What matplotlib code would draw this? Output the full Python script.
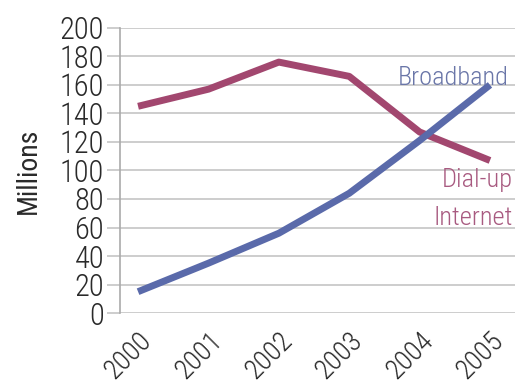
import matplotlib
matplotlib.use("Agg")
import matplotlib.pyplot as plt

years = [2000, 2001, 2002, 2003, 2004, 2005]
broadband = [15, 35, 56, 84, 121, 160]
dialup = [145, 157, 176, 166, 127, 107]
yticks = list(range(0, 201, 20))

blue = "#5a6aaa"
plum = "#a2476f"
grid_gray = "#c9c9c9"
ink = "#2a2a2a"

plt.rcParams['font.family'] = ['Roboto Condensed', 'DejaVu Sans']
plt.rcParams['font.weight'] = 300

fig = plt.figure(figsize=(5.2, 3.87), dpi=100)
ax = fig.add_axes([0.231, 0.191, 0.76, 0.737])

ax.plot(years, dialup, color=plum, lw=5, solid_capstyle='butt', zorder=3)
ax.plot(years, broadband, color=blue, lw=5, solid_capstyle='butt', zorder=3)

ax.set_ylim(0, 200)
ax.set_xlim(1999.745, 2005.36)
ax.set_yticks(yticks)
ax.set_xticks(years)
ax.set_xticklabels([str(y) for y in years], rotation=45, ha='right', va='top',
                   rotation_mode='anchor', fontsize=20, color=ink)
ax.set_yticklabels([str(v) for v in yticks], fontsize=22, color=ink)
ax.yaxis.grid(True, color=grid_gray, lw=1.3)
ax.tick_params(axis='y', length=9.5, width=1.3, color=grid_gray, pad=2)
ax.tick_params(axis='x', length=0, pad=10)

for side in ['top', 'right', 'bottom']:
    ax.spines[side].set_visible(False)
ax.spines['left'].set_color('#aaaaaa')
ax.spines['left'].set_linewidth(1.2)

ax.set_ylabel("Millions", fontsize=20, color=ink, labelpad=13, fontweight=400)

# series labels placed at the right end of the plot
ax.text(2005.27, 165, "Broadband", color="#6a76a8", fontsize=19, ha='right', va='center')
ax.text(2005.32, 93, "Dial-up", color="#a85a80", fontsize=19, ha='right', va='center')
ax.text(2005.32, 67, "Internet", color="#a85a80", fontsize=19, ha='right', va='center')

fig.savefig("out.png", dpi=100)
